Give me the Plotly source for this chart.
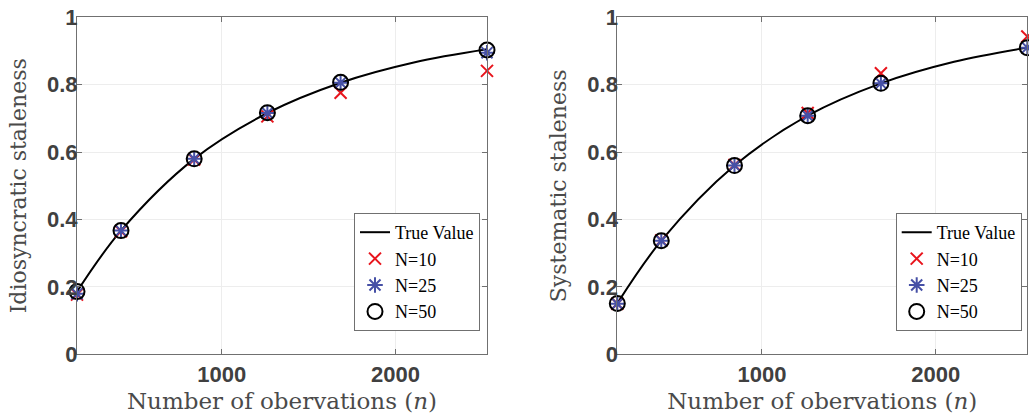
import plotly.graph_objects as go

# ---- data ----
n_obs = [168, 421, 842, 1263, 1684, 2526]

true_x = [168, 421, 842, 1263, 1684, 2105, 2526]
idio_true = [0.186, 0.367, 0.580, 0.716, 0.806, 0.866, 0.905]
syst_true = [0.151, 0.337, 0.560, 0.708, 0.804, 0.868, 0.910]

idio_n10 = [0.177, 0.365, 0.578, 0.706, 0.776, 0.841]
idio_n25 = [0.180, 0.367, 0.580, 0.716, 0.806, 0.895]
idio_n50 = [0.186, 0.367, 0.580, 0.717, 0.807, 0.903]

syst_n10 = [0.150, 0.338, 0.562, 0.716, 0.834, 0.943]
syst_n25 = [0.150, 0.337, 0.560, 0.708, 0.804, 0.910]
syst_n50 = [0.151, 0.337, 0.560, 0.708, 0.804, 0.910]

y_ticks = [0, 0.2, 0.4, 0.6, 0.8, 1]
y_tick_labels = ["0", "0.2", "0.4", "0.6", "0.8", "1"]
x_ticks = [1000, 2000]
x_tick_labels = ["1000", "2000"]

x_title = "Number of obervations (<i>n</i>)"
y_titles = ["Idiosyncratic staleness", "Systematic staleness"]

# ---- styles ----
RED = "#e8141c"
BLUE = "#4650a6"
AXIS = "#707070"
TXT = "#404040"
TITLE_COL = "#4a4a4a"
SERIF = "DejaVu Serif"
LSERIF = "Liberation Serif"
SANS = "Liberation Sans"

W, H = 1029, 420


def px_x(s):
    return s / W


def px_y(s):
    return (H - s) / H


fig = go.Figure()

panels = [
    (idio_true, idio_n10, idio_n25, idio_n50, "x", "y", "legend"),
    (syst_true, syst_n10, syst_n25, syst_n50, "x2", "y2", "legend2"),
]

for tv, n10, n25, n50, xa, ya, lg in panels:
    fig.add_trace(go.Scatter(x=true_x, y=tv, mode="lines", name="True Value",
                             line=dict(color="black", width=2, shape="spline"),
                             xaxis=xa, yaxis=ya, legend=lg, cliponaxis=False))
    fig.add_trace(go.Scatter(x=n_obs, y=n10, mode="markers", name="N=10",
                             marker=dict(symbol="x-thin-open", size=12, color=RED,
                                         line=dict(color=RED, width=2)),
                             xaxis=xa, yaxis=ya, legend=lg, cliponaxis=False))
    fig.add_trace(go.Scatter(x=n_obs, y=n25, mode="markers", name="N=25",
                             marker=dict(symbol="asterisk-open", size=13, color=BLUE,
                                         line=dict(color=BLUE, width=2)),
                             xaxis=xa, yaxis=ya, legend=lg, cliponaxis=False))
    fig.add_trace(go.Scatter(x=n_obs, y=n50, mode="markers", name="N=50",
                             marker=dict(symbol="circle-open", size=15, color="black",
                                         line=dict(color="black", width=2)),
                             xaxis=xa, yaxis=ya, legend=lg, cliponaxis=False))

xcommon = dict(range=[168, 2526], tickvals=x_ticks, ticktext=x_tick_labels,
               showline=True, linecolor=AXIS, linewidth=1, mirror="ticks",
               ticks="inside", ticklen=5, tickcolor=AXIS, automargin=False,
               ticklabeloverflow="allow",
               showgrid=True, gridcolor="#ededed", gridwidth=1, zeroline=False,
               tickfont=dict(family=SANS, size=22, color=TXT, weight="bold"),
               title=dict(text=x_title, font=dict(family=SERIF, size=23, color=TITLE_COL),
                          standoff=7))
ycommon = dict(range=[0, 1], tickvals=y_ticks, ticktext=y_tick_labels,
               showline=True, linecolor=AXIS, linewidth=1, mirror="ticks",
               ticks="inside", ticklen=5, tickcolor=AXIS, automargin=False,
               ticklabeloverflow="allow", ticklabelstandoff=-6,
               showgrid=True, gridcolor="#ededed", gridwidth=1, zeroline=False,
               tickfont=dict(family=SANS, size=22, color=TXT, weight="bold"))

ydom = [px_y(354.3), px_y(17.3)]

legend_common = dict(y=px_y(213), xanchor="right", yanchor="top",
                     bgcolor="white", bordercolor=AXIS, borderwidth=1,
                     font=dict(family=LSERIF, size=18, color="black"),
                     tracegroupgap=0, itemwidth=30)

fig.update_layout(
    width=W, height=H,
    margin=dict(l=0, r=0, t=0, b=0),
    paper_bgcolor="white", plot_bgcolor="white",
    xaxis=dict(domain=[px_x(77), px_x(487)], anchor="y", **xcommon),
    yaxis=dict(domain=ydom, anchor="x",
               title=dict(text=y_titles[0], font=dict(family=SERIF, size=22, color=TITLE_COL),
                          standoff=14), **ycommon),
    xaxis2=dict(domain=[px_x(617.3), px_x(1027.3)], anchor="y2", **xcommon),
    yaxis2=dict(domain=ydom, anchor="x2",
                title=dict(text=y_titles[1], font=dict(family=SERIF, size=22, color=TITLE_COL),
                           standoff=14), **ycommon),
    legend=dict(x=px_x(480), **legend_common),
    legend2=dict(x=px_x(1021.7), **legend_common),
    showlegend=True,
)

# remove the default 8px page margin so the figure fills the 1029x420 window
fig.write_html("out.html", config={"displayModeBar": False},
               post_script="document.body.style.margin='0px';")
